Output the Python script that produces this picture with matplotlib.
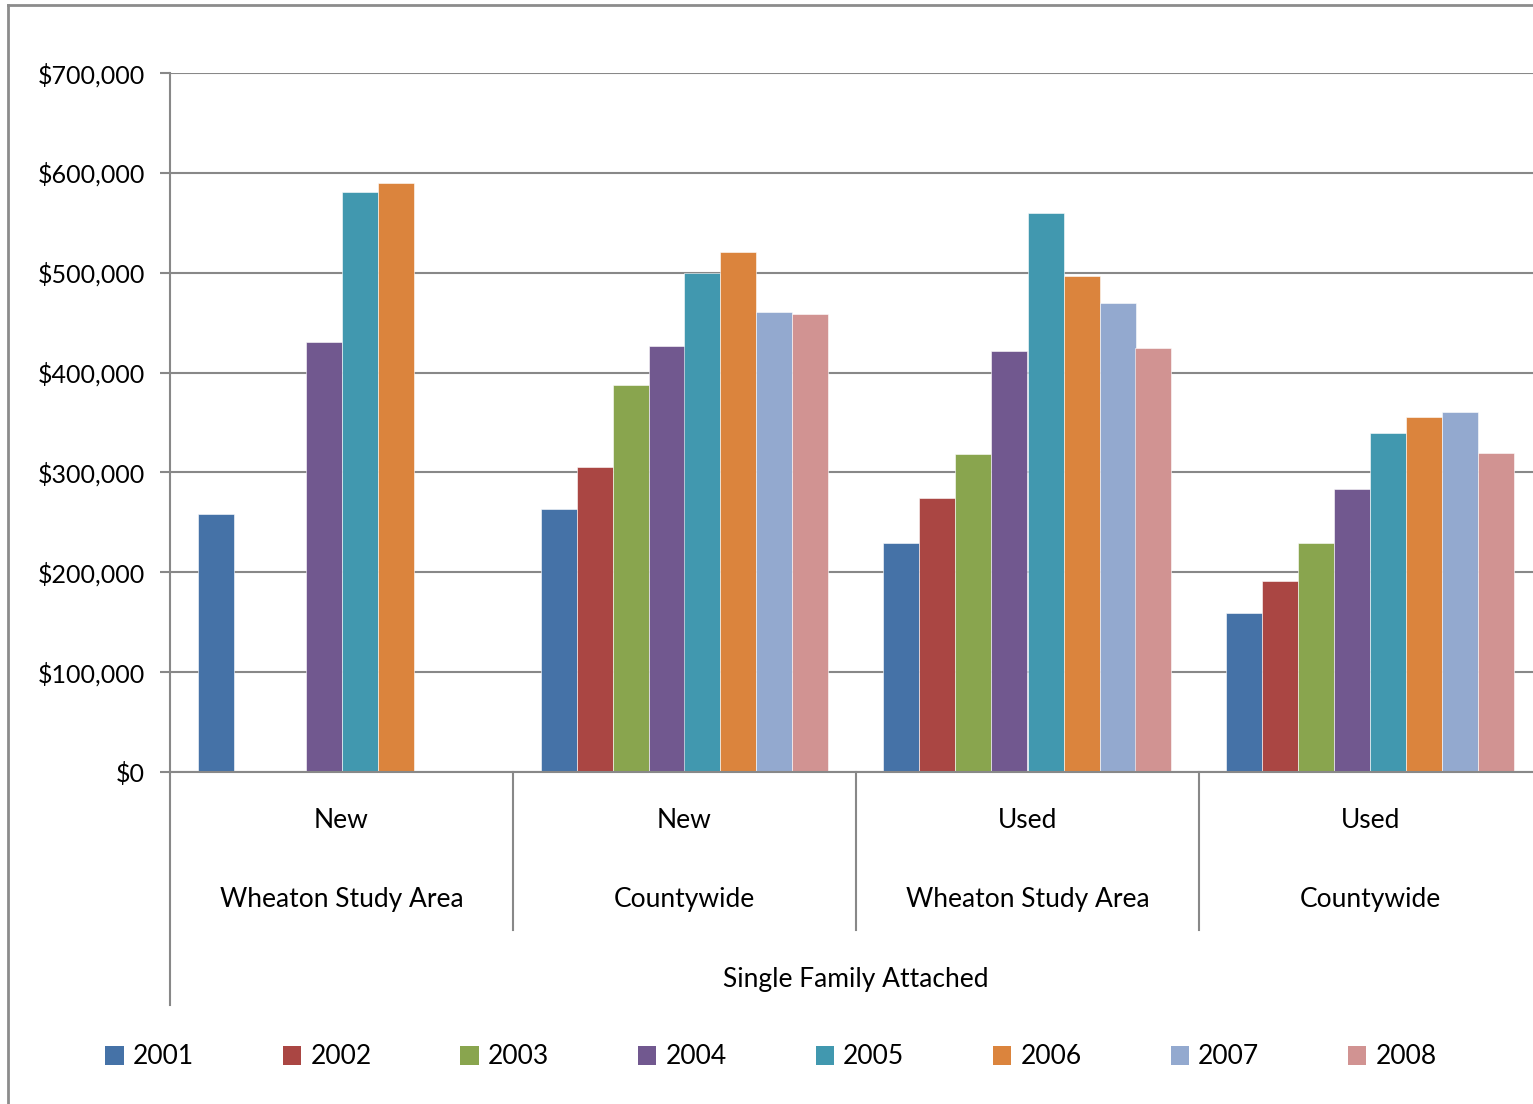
import matplotlib
matplotlib.use("Agg")
import matplotlib.pyplot as plt
import matplotlib.transforms as mtransforms
from matplotlib.lines import Line2D
from matplotlib.patches import Patch
import numpy as np

# Median sale price, single family attached homes
years = ["2001", "2002", "2003", "2004", "2005", "2006", "2007", "2008"]
conditions = ["New", "New", "Used", "Used"]
areas = ["Wheaton Study Area", "Countywide", "Wheaton Study Area", "Countywide"]
housing_type = "Single Family Attached"

new_wheaton = [258500, None, None, 430500, 580500, 589500, None, None]
new_county = [263500, 305500, 387500, 426500, 499500, 520500, 460500, 458500]
used_wheaton = [229500, 274500, 318500, 421500, 559500, 496500, 469500, 424500]
used_county = [159500, 191000, 229500, 283500, 339500, 355500, 360500, 319500]

y_ticks = [0, 100000, 200000, 300000, 400000, 500000, 600000, 700000]
y_tick_labels = ["$0", "$100,000", "$200,000", "$300,000", "$400,000",
                 "$500,000", "$600,000", "$700,000"]

colors = ["#4572A7", "#AA4643", "#89A54E", "#71588F",
          "#4198AF", "#DB843D", "#93A9CF", "#D19392"]

plt.rcParams["font.family"] = ["Lato", "DejaVu Sans"]
W, H = 1533, 1104
fig = plt.figure(figsize=(W / 100, H / 100), dpi=100)

x0, x1 = 170, 1542
y_top, y_bot = 73, 772
ax = fig.add_axes([x0 / W, 1 - y_bot / H, (x1 - x0) / W, (y_bot - y_top) / H])

groups = [new_wheaton, new_county, used_wheaton, used_county]
bar_w = 36 / 343
for gi, vals in enumerate(groups):
    for si, v in enumerate(vals):
        if v is None:
            continue
        xc = gi + 0.5 + (si - 3.5) * bar_w
        ax.bar(xc, v, width=bar_w, color=colors[si], edgecolor="white",
               linewidth=0.4, zorder=3)

ax.set_xlim(0, 4)
ax.set_ylim(0, 700000)
ax.set_yticks(y_ticks)
ax.set_yticklabels(y_tick_labels, fontsize=18)
ax.tick_params(axis="y", length=7, width=1.5, color="#888888", pad=11)
ax.set_xticks([])
ax.grid(axis="y", color="#888888", linewidth=1.5, zorder=0)
for s in ["top", "right", "bottom"]:
    ax.spines[s].set_visible(False)
ax.spines["left"].set_color("#888888")
ax.spines["left"].set_linewidth(1.5)

# Multi-level category axis
trans = mtransforms.blended_transform_factory(ax.transData, ax.transAxes)
ph = y_bot - y_top
def ay(py):
    return -(py - y_bot) / ph

ax.plot([0, 4], [0, 0], transform=trans, color="#888888", lw=1.5,
        clip_on=False, zorder=4)
ax.plot([0, 0], [0, ay(1005)], transform=trans, color="#888888", lw=1.5,
        clip_on=False)
for gx in [1, 2, 3]:
    ax.plot([gx, gx], [0, ay(930)], transform=trans, color="#888888", lw=1.5,
            clip_on=False)

for gi in range(4):
    ax.text(gi + 0.5, ay(821), conditions[gi], transform=trans, ha="center",
            va="center", fontsize=19)
    ax.text(gi + 0.5, ay(900), areas[gi], transform=trans, ha="center",
            va="center", fontsize=19)
ax.text(2.0, ay(979), housing_type, transform=trans, ha="center",
        va="center", fontsize=19)

# Legend
handles = [Patch(facecolor=c, edgecolor="none") for c in colors]
leg = fig.legend(handles, years, loc="center", bbox_to_anchor=(771 / W, 1 - 1057 / H),
                 ncol=8, frameon=False, fontsize=19, handlelength=0.7,
                 handleheight=0.7, handletextpad=0.35, columnspacing=3.36)

# Chart area border
fig.add_artist(Line2D([8 / W, 8 / W], [0, 1 - 5 / H], color="#8c8c8c", lw=2))
fig.add_artist(Line2D([8 / W, 1], [1 - 5 / H, 1 - 5 / H], color="#8c8c8c", lw=2))

fig.savefig("out.png", dpi=100)
